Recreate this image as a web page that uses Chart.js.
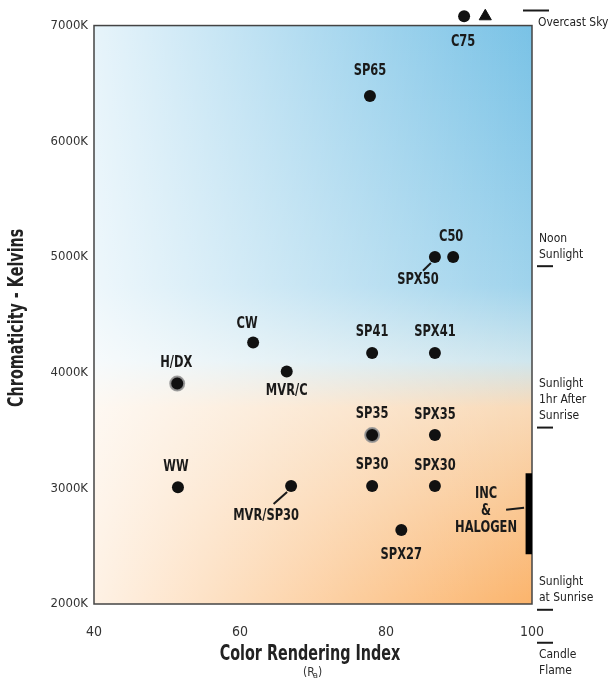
<!DOCTYPE html>
<html>
<head>
<meta charset="utf-8">
<script src="https://cdn.jsdelivr.net/npm/chart.js@4.4.1/dist/chart.umd.min.js"></script>
<style>
  html, body { margin: 0; padding: 0; background: #fff; }
  #wrap { width: 616px; height: 680px; }
</style>
</head>
<body>
<div id="wrap"><canvas id="mycanvas" width="616" height="680"></canvas></div>
<script>
// lamp types
const names = ['C75', 'SP65', 'C50', 'SPX50', 'CW', 'SP41', 'SPX41', 'H/DX', 'MVR/C',
               'SP35', 'SPX35', 'WW', 'MVR/SP30', 'SP30', 'SPX30', 'SPX27'];
const cri = [90.7, 77.8, 89.2, 86.7, 61.8, 78.1, 86.7, 51.4, 66.4,
             78.1, 86.7, 51.5, 67.0, 78.1, 86.7, 82.1];
const kelvin = [7080, 6390, 5000, 5000, 4260, 4170, 4170, 3905, 4010,
                3460, 3460, 3010, 3020, 3020, 3020, 2640];

// triangle next to C75
const triCri = [93.6];
const triKelvin = [7080];

// incandescent & halogen range
const incCri = [99.6, 99.6];
const incKelvin = [2430, 3130];

// natural light references on the right
const refNames = [['Overcast Sky'], ['Noon', 'Sunlight'], ['Sunlight', '1hr After', 'Sunrise'],
                  ['Sunlight', 'at Sunrise'], ['Candle', 'Flame']];
const refKelvin = [7130, 4920, 3525, 1950, 1665];

const xTicks = [40, 60, 80, 100];
const yTicks = [2000, 3000, 4000, 5000, 6000, 7000];

// label placement (pixels from the point): dx, dy, leader line
const labelOffsets = {
  'C75': [-1, 26], 'SP65': [0, -25], 'C50': [-2, -20], 'SPX50': [-17, 23, true],
  'CW': [-6, -18], 'SP41': [0, -21], 'SPX41': [0, -21], 'H/DX': [-1, -20],
  'MVR/C': [0, 20], 'SP35': [0, -21], 'SPX35': [0, -20], 'WW': [-2, -20],
  'MVR/SP30': [-25, 30, true], 'SP30': [0, -21], 'SPX30': [0, -20], 'SPX27': [0, 25]
};

const narrow = "'Liberation Sans Narrow', 'DejaVu Sans Condensed', 'Roboto', sans-serif";

const points = [];
for (var i in names) {
  points.push({x: cri[i], y: kelvin[i]});
}

const halo = names.map(n => (n === 'SP35' || n === 'H/DX') ? 2 : 0);
const radius = names.map(n => (n === 'SP35' || n === 'H/DX') ? 7 : 6);

// squeezed text, the original uses a condensed face
function squeeze(ctx, text, x, y, sx) {
  ctx.save();
  ctx.translate(x, y);
  ctx.scale(sx, 1);
  ctx.fillText(text, 0, 0);
  ctx.restore();
}

const backdrop = {
  id: 'backdrop',
  beforeDatasetsDraw(chart) {
    const {ctx, chartArea: a, scales: {y}} = chart;
    const top = y.getPixelForValue(7000);
    const h = a.bottom - top;
    ctx.save();
    var g = ctx.createLinearGradient(0, top, 0, a.bottom);
    g.addColorStop(0, '#79c2e6');
    g.addColorStop(0.45, '#9fd3ec');
    g.addColorStop(0.58, '#cfe6ee');
    g.addColorStop(0.66, '#f9dab8');
    g.addColorStop(1, '#fbb46c');
    ctx.fillStyle = g;
    ctx.fillRect(a.left, top, a.width, h);
    var w = ctx.createLinearGradient(a.left, 0, a.right, 0);
    w.addColorStop(0, 'rgba(255,255,255,0.82)');
    w.addColorStop(0.45, 'rgba(255,255,255,0.45)');
    w.addColorStop(1, 'rgba(255,255,255,0)');
    ctx.fillStyle = w;
    ctx.fillRect(a.left, top, a.width, h);
    ctx.strokeStyle = '#444';
    ctx.lineWidth = 1.5;
    ctx.strokeRect(a.left, top, a.width, h);
    ctx.restore();
  },
  afterDatasetsDraw(chart) {
    const {ctx, chartArea: a, scales: {x, y}} = chart;
    ctx.save();
    ctx.fillStyle = '#1a1a1a';
    ctx.strokeStyle = '#1a1a1a';
    ctx.textAlign = 'center';
    ctx.textBaseline = 'middle';
    ctx.font = 'bold 15px ' + narrow;
    names.forEach(function(n, i) {
      const px = x.getPixelForValue(cri[i]);
      const py = y.getPixelForValue(kelvin[i]);
      const o = labelOffsets[n];
      squeeze(ctx, n, px + o[0], py + o[1], 0.85);
      if (o[2]) {
        ctx.lineWidth = 2;
        ctx.beginPath();
        ctx.moveTo(px - 4, py + 6);
        ctx.lineTo(px + o[0] * 0.7, py + o[1] * 0.6);
        ctx.stroke();
      }
    });

    // INC & HALOGEN
    const bx = x.getPixelForValue(incCri[0]);
    const by = (y.getPixelForValue(incKelvin[0]) + y.getPixelForValue(incKelvin[1])) / 2;
    ['INC', '&', 'HALOGEN'].forEach(function(t, k) {
      squeeze(ctx, t, bx - 43, by - 20 + k * 17, 0.85);
    });
    ctx.lineWidth = 2;
    ctx.beginPath();
    ctx.moveTo(bx - 23, by - 4);
    ctx.lineTo(bx - 5, by - 6);
    ctx.stroke();

    // axis titles
    ctx.fillStyle = '#222';
    ctx.font = 'bold 21px ' + narrow;
    squeeze(ctx, 'Color Rendering Index', (a.left + a.right) / 2 - 3, 655, 0.76);
    ctx.save();
    ctx.translate(18, (y.getPixelForValue(7000) + a.bottom) / 2 + 3);
    ctx.rotate(-Math.PI / 2);
    squeeze(ctx, 'Chromaticity - Kelvins', 0, 0, 0.76);
    ctx.restore();

    // (Ra)
    ctx.font = '12px ' + narrow;
    ctx.fillStyle = '#333';
    ctx.textAlign = 'left';
    const rx = (a.left + a.right) / 2 - 10;
    ctx.fillText('(R', rx, 673);
    ctx.font = '9px ' + narrow;
    ctx.fillText('a', rx + 10, 676);
    ctx.font = '12px ' + narrow;
    ctx.fillText(')', rx + 15, 673);

    // natural light references
    ctx.font = '13px ' + narrow;
    ctx.fillStyle = '#222';
    ctx.lineWidth = 2;
    refNames.forEach(function(lines, i) {
      const py = y.getPixelForValue(refKelvin[i]);
      ctx.beginPath();
      if (i === 0) {
        ctx.moveTo(a.right - 9, py);
        ctx.lineTo(a.right + 17, py);
        ctx.stroke();
        squeeze(ctx, lines[0], a.right + 6, py + 12, 0.92);
        return;
      }
      ctx.moveTo(a.right + 5, py);
      ctx.lineTo(a.right + 21, py);
      ctx.stroke();
      lines.forEach(function(t, k) {
        var ty;
        if (i === refNames.length - 1) ty = py + 12 + k * 16;
        else ty = py - 12 - (lines.length - 1 - k) * 16;
        squeeze(ctx, t, a.right + 7, ty, 0.92);
      });
    });
    ctx.restore();
  }
};

var ctx = document.getElementById('mycanvas');

var chart = new Chart(ctx, {
  type: 'scatter',
  data: {
    datasets: [
      {
        label: 'Lamps',
        data: points,
        backgroundColor: '#111',
        borderColor: 'rgba(150,150,150,0.9)',
        borderWidth: halo,
        pointRadius: radius,
        pointHoverRadius: radius
      },
      {
        label: 'Triangle',
        data: triCri.map((v, i) => ({x: v, y: triKelvin[i]})),
        pointStyle: 'triangle',
        backgroundColor: '#111',
        borderColor: '#111',
        pointRadius: 7
      },
      {
        label: 'INC & HALOGEN',
        type: 'line',
        data: incCri.map((v, i) => ({x: v, y: incKelvin[i]})),
        borderColor: '#000',
        borderWidth: 7,
        borderCapStyle: 'butt',
        pointRadius: 0
      }
    ]
  },
  options: {
    responsive: false,
    animation: false,
    layout: { padding: { left: 0, right: 84, top: 0, bottom: 0 } },
    plugins: { legend: { display: false }, tooltip: { enabled: false } },
    scales: {
      x: {
        type: 'linear',
        min: 40, max: 100,
        afterFit(scale) { scale.height = 76; scale.paddingLeft = 0; scale.paddingRight = 0; },
        afterBuildTicks(scale) { scale.ticks = xTicks.map(v => ({value: v})); },
        grid: { display: false, drawTicks: false },
        border: { display: false },
        ticks: { padding: 20, color: '#333', font: { family: narrow, size: 14 } }
      },
      y: {
        type: 'linear',
        min: 2000, max: 7143,
        afterFit(scale) { scale.width = 94; scale.paddingTop = 0; scale.paddingBottom = 0; },
        afterBuildTicks(scale) { scale.ticks = yTicks.map(v => ({value: v})); },
        grid: { display: false, drawTicks: false },
        border: { display: false },
        ticks: {
          padding: 6, color: '#333',
          font: { family: narrow, size: 13 },
          callback: v => v + 'K'
        }
      }
    }
  },
  plugins: [backdrop]
});
</script>
</body>
</html>
